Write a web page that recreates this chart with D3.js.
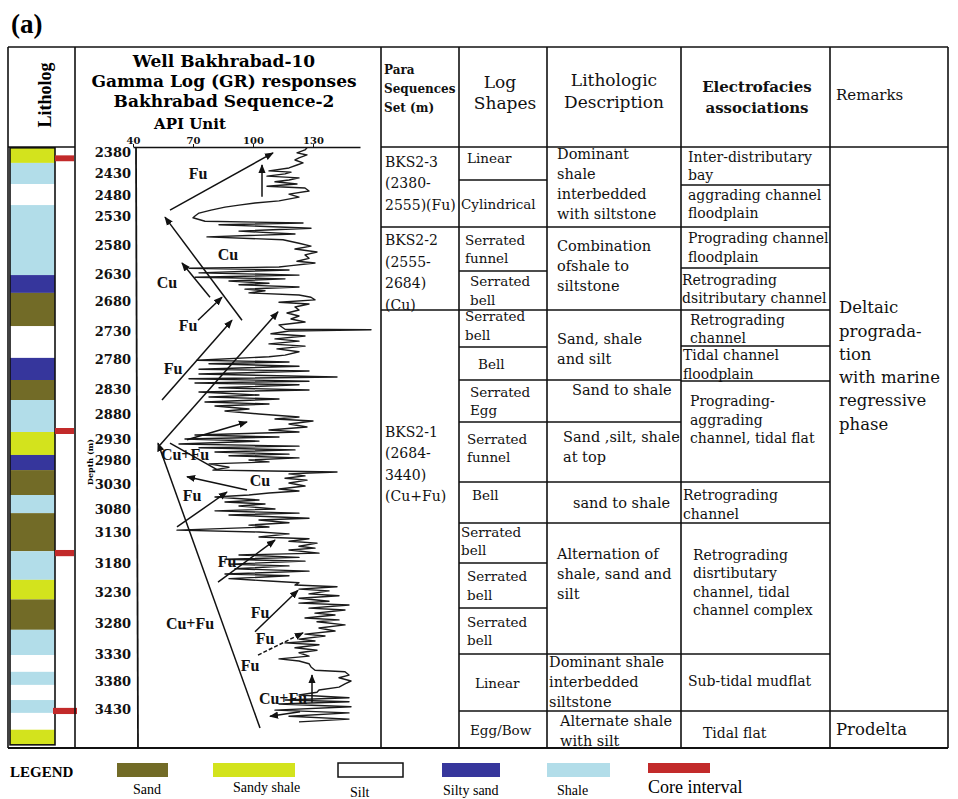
<!DOCTYPE html>
<html>
<head>
<meta charset="utf-8">
<script src="https://cdn.jsdelivr.net/npm/d3@7"></script>
<style>
  body { margin: 0; background: #fff; }
  svg { display: block; }
</style>
</head>
<body>
<svg id="chart" width="958" height="799"></svg>
<script>
// ---------------- data ----------------
const depthTicks = [2380, 2430, 2480, 2530, 2580, 2630, 2680, 2730, 2780, 2830, 2880,
                    2930, 2980, 3030, 3080, 3130, 3180, 3230, 3280, 3330, 3380, 3430];
const apiTicks = [40, 70, 100, 130];

// lithology units: [top depth, base depth, type]
const lithoUnits = [
  [2370, 2406, "Sandy shale"], [2406, 2455, "Shale"], [2455, 2504, "Silt"],
  [2504, 2632, "Shale"], [2632, 2665, "Silty sand"], [2665, 2722, "Sand"],
  [2722, 2778, "Silt"], [2778, 2815, "Silty sand"], [2815, 2852, "Sand"],
  [2852, 2916, "Shale"], [2916, 2968, "Sandy shale"], [2968, 3001, "Silty sand"],
  [3001, 3052, "Sand"], [3052, 3089, "Shale"], [3089, 3161, "Sand"],
  [3161, 3209, "Shale"], [3209, 3242, "Sandy shale"], [3242, 3291, "Sand"],
  [3291, 3332, "Shale"], [3332, 3363, "Silt"], [3363, 3387, "Shale"],
  [3387, 3414, "Silt"], [3414, 3437, "Shale"], [3437, 3467, "Silt"],
  [3467, 3494, "Sandy shale"]
];
const coreIntervals = [[2388, 2402], [2908, 2920], [3159, 3169], [3428, 3439]];

// gamma ray log: [depth (m), GR (API)]
const grLog = [
  [2370,127],[2375,126],[2382,122],[2387,127],[2394,123],[2399,121],[2406,125],[2411,122],
  [2418,118],[2425,108],[2428,119],[2432,116],[2437,107],[2441,123],[2446,118],[2450,111],
  [2455,122],[2460,107],[2464,126],[2471,128],[2478,118],[2485,123],[2494,113],[2499,101],
  [2504,93],[2509,86],[2516,79],[2523,73],[2530,71],[2533,70],[2539,76],[2542,125],
  [2545,83],[2551,129],[2556,93],[2561,121],[2566,77],[2571,115],[2577,123],[2582,129],
  [2587,121],[2592,132],[2597,126],[2603,128],[2608,122],[2611,131],[2616,118],[2618,113],
  [2620,68],[2623,118],[2628,73],[2632,123],[2636,71],[2639,116],[2643,88],[2647,108],
  [2650,93],[2654,123],[2658,96],[2661,106],[2665,98],[2669,123],[2673,129],[2678,131],
  [2682,113],[2685,128],[2690,121],[2695,123],[2700,117],[2705,123],[2710,119],[2715,126],
  [2720,113],[2727,116],[2728,159],[2730,118],[2735,109],[2739,126],[2744,111],[2748,123],
  [2753,108],[2757,126],[2762,112],[2767,123],[2773,116],[2776,108],[2782,72],[2785,118],
  [2788,78],[2792,123],[2797,73],[2800,128],[2805,73],[2810,142],[2813,68],[2817,128],
  [2820,71],[2823,123],[2828,83],[2832,128],[2836,73],[2842,103],[2846,78],[2850,113],
  [2856,76],[2860,108],[2864,81],[2870,98],[2874,86],[2880,103],[2886,123],[2890,111],
  [2894,130],[2900,118],[2906,127],[2912,108],[2916,123],[2922,71],[2926,113],[2930,66],
  [2935,103],[2942,63],[2947,123],[2951,73],[2956,121],[2961,81],[2966,118],[2970,88],
  [2975,123],[2980,98],[2984,108],[2988,78],[2995,88],[3001,80],[3005,142],[3009,118],
  [3013,126],[3018,116],[3022,127],[3028,118],[3034,126],[3040,113],[3044,123],[3048,108],
  [3052,98],[3056,81],[3062,103],[3066,86],[3070,106],[3074,93],[3080,111],[3084,81],
  [3089,123],[3093,88],[3100,128],[3104,103],[3110,118],[3115,98],[3119,108],[3126,62],
  [3130,103],[3133,118],[3138,103],[3141,128],[3145,118],[3148,132],[3153,123],[3156,131],
  [3159,118],[3164,133],[3167,93],[3171,123],[3174,86],[3177,126],[3182,88],[3185,118],
  [3190,91],[3194,128],[3199,86],[3202,118],[3207,88],[3211,108],[3214,123],[3218,121],
  [3221,142],[3225,123],[3228,138],[3233,128],[3236,143],[3240,123],[3245,138],[3248,123],
  [3251,148],[3256,128],[3259,146],[3264,131],[3267,141],[3272,126],[3275,143],[3278,132],
  [3283,146],[3288,133],[3293,141],[3298,126],[3301,136],[3306,123],[3309,131],[3312,116],
  [3315,133],[3320,121],[3324,132],[3328,123],[3334,128],[3339,113],[3343,123],[3348,128],
  [3354,129],[3360,131],[3363,146],[3369,148],[3374,143],[3380,149],[3385,146],[3391,143],
  [3396,133],[3400,132],[3405,123],[3410,148],[3414,116],[3417,148],[3421,113],[3426,149],
  [3432,111],[3437,148],[3443,118],[3448,148],[3453,123]
];

// log-motif trend arrows: [GR from, depth from, GR to, depth to, kind]
const trendArrows = [
  [58.5, 2516, 110, 2382, "head"], [104.5, 2484, 104.5, 2411, "head"],
  [94.5, 2712, 56, 2532, "head"], [78.5, 2673, 64.5, 2611, "head"],
  [72.5, 2712, 84.5, 2673, "head"], [54.5, 2852, 89.5, 2712, "head"],
  [53.5, 2944, 112.5, 2698, "head"], [67, 2932, 97, 2896, "head"],
  [103.5, 3464, 52.5, 2940, "head"], [97, 3042, 67, 3015, "head"],
  [82, 3000, 58.5, 2940, "none"], [62, 3119, 87, 3046, "head"],
  [82.5, 3213, 111, 3143, "head"], [101, 3294, 122.5, 3227, "head"],
  [102.5, 3332, 125, 3296, "dash"], [129.5, 3419, 129.5, 3369, "head"],
  [123.5, 3435, 108.5, 3443, "head"]
];
// motif labels: [text, GR, depth]
const trendLabels = [
  ["Fu", 72.5, 2430], ["Cu", 87.5, 2597], ["Cu", 57, 2645], ["Fu", 67.5, 2720],
  ["Fu", 60, 2795], ["Cu+Fu", 66, 2968], ["Cu", 103.5, 3022], ["Fu", 69.5, 3052],
  ["Fu", 87, 3178], ["Fu", 103.5, 3263], ["Fu", 106, 3305], ["Fu", 98.5, 3352],
  ["Cu+Fu", 68.5, 3280], ["Cu+Fu", 115, 3411]
];

// table contents
const paraSets = [
  ["BKS2-3", "(2380-", "2555)(Fu)"],
  ["BKS2-2", "(2555-", "2684)", "(Cu)"],
  ["BKS2-1", "(2684-", "3440)", "(Cu+Fu)"]
];
const logShapes = [
  ["Linear"], ["Cylindrical"], ["Serrated", "funnel"], ["Serrated", "bell"],
  ["Serrated", "bell"], ["Bell"], ["Serrated", "Egg"], ["Serrated", "funnel"],
  ["Bell"], ["Serrated", "bell"], ["Serrated", "bell"], ["Serrated", "bell"],
  ["Linear"], ["Egg/Bow"]
];
const lithDescriptions = [
  ["Dominant", "shale", "interbedded", "with siltstone"],
  ["Combination", "ofshale to", "siltstone"],
  ["Sand, shale", "and  silt"],
  ["Sand to shale"],
  ["Sand ,silt, shale", "at top"],
  ["sand to shale"],
  ["Alternation of", "shale, sand and", "silt"],
  ["Dominant shale", "interbedded", "siltstone"],
  ["Alternate shale", "with silt"]
];
const electrofacies = [
  ["Inter-distributary", "bay"], ["aggrading channel", "floodplain"],
  ["Prograding channel", "floodplain"], ["Retrograding", "dsitributary channel"],
  ["Retrograding", "channel"], ["Tidal channel", "floodplain"],
  ["Prograding-", "aggrading", "channel, tidal flat"], ["Retrograding", "channel"],
  ["Retrograding", "disrtibutary", "channel, tidal", "channel complex"],
  ["Sub-tidal mudflat"], ["Tidal flat"]
];
const remarks = [
  ["Deltaic", "prograda-", "tion", "with marine", "regressive", "phase"],
  ["Prodelta"]
];
const legendItems = ["Sand", "Sandy shale", "Silt", "Silty sand", "Shale", "Core interval"];

// ---------------- styles & layout ----------------
const lithFill = {
  "Sand": "#726b27", "Sandy shale": "#d3e31d", "Silt": "#ffffff",
  "Silty sand": "#36369c", "Shale": "#b2dde9", "Core interval": "#c22a2a"
};
const ink = "#111";
const serif = "'DejaVu Serif', serif";
const times = "'Liberation Serif', serif";

const frameTop = 47, headBottom = 147, frameBottom = 748, frameLeft = 8, frameRight = 948;
const colLines = [8, 75, 381, 459, 547, 681, 830, 948];

// row boundaries of each table column
const paraRows = [147, 227, 310, 748];
const logRows = [147, 180, 227, 271, 310, 347, 380, 422, 482, 523, 563, 608, 654, 711, 748];
const lithRows = [147, 227, 310, 380, 422, 482, 523, 654, 711, 748];
const electroRows = [147, 185, 227, 268, 310, 346, 381, 482, 523, 654, 711, 748];
const remarkRows = [147, 711, 748];

const svg = d3.select("#chart");

// depth axis: label positions are irregular, so the scale is piecewise linear
const depthTickY = [152, 173, 195, 216, 245, 274, 301, 331, 359, 389, 414,
                    439, 460, 484, 509, 532, 563, 592, 623, 654, 681, 709];
const y = d3.scaleLinear().domain(depthTicks).range(depthTickY);
const x = d3.scaleLinear().domain([40, 153.5]).range([133, 360]);

// ---------------- panel label ----------------
svg.append("text").attr("x", 11).attr("y", 33)
  .attr("font-family", times).attr("font-weight", "bold").attr("font-size", 27)
  .text("(a)");

// ---------------- lithology column ----------------
const litho = svg.append("g");
litho.selectAll("rect.unit").data(lithoUnits).join("rect")
  .attr("class", "unit")
  .attr("x", 10).attr("width", 45)
  .attr("y", d => y(d[0])).attr("height", d => y(d[1]) - y(d[0]))
  .attr("fill", d => lithFill[d[2]]);
litho.append("rect").attr("x", 10).attr("y", y(2370)).attr("width", 45)
  .attr("height", y(3494) - y(2370)).attr("fill", "none")
  .attr("stroke", ink).attr("stroke-width", 1.6);
litho.selectAll("rect.core").data(coreIntervals).join("rect")
  .attr("class", "core")
  .attr("x", (d, i) => i === 3 ? 53 : 55).attr("width", (d, i) => i === 3 ? 24 : 19)
  .attr("y", d => y(d[0])).attr("height", d => y(d[1]) - y(d[0]))
  .attr("fill", lithFill["Core interval"]);
svg.append("text")
  .attr("transform", "translate(51,95) rotate(-90)")
  .attr("text-anchor", "middle")
  .attr("font-family", times).attr("font-weight", "bold").attr("font-size", 18)
  .text("Litholog");

// ---------------- gamma log column ----------------
const titleLines = ["Well Bakhrabad-10", "Gamma Log (GR) responses", "Bakhrabad Sequence-2"];
svg.append("g").selectAll("text").data(titleLines).join("text")
  .attr("x", 224).attr("y", (d, i) => 67 + i * 20)
  .attr("text-anchor", "middle")
  .attr("font-family", serif).attr("font-weight", "bold").attr("font-size", 17)
  .text(d => d);
svg.append("text").attr("x", 190).attr("y", 129).attr("text-anchor", "middle")
  .attr("font-family", serif).attr("font-weight", "bold").attr("font-size", 15)
  .text("API Unit");

const xAxis = svg.append("g").attr("transform", `translate(0,${headBottom})`)
  .call(d3.axisTop(x).tickValues(apiTicks).tickSize(3).tickSizeOuter(0).tickFormat(d3.format("d")));
xAxis.select(".domain").attr("stroke", ink).attr("stroke-width", 1.6);
xAxis.selectAll(".tick line").attr("stroke", ink);
xAxis.selectAll(".tick text").attr("font-family", serif).attr("font-weight", "bold")
  .attr("font-size", 10).attr("fill", ink).attr("dy", "0.25em");

const yAxis = svg.append("g").attr("transform", "translate(136,0)")
  .call(d3.axisLeft(y).tickValues(depthTicks).tickSize(0).tickPadding(5).tickFormat(d3.format("d")));
yAxis.select(".domain").remove();
yAxis.selectAll(".tick text").attr("font-family", serif).attr("font-weight", "bold")
  .attr("font-size", 13).attr("fill", ink);
svg.append("line").attr("x1", 136).attr("x2", 138).attr("y1", headBottom).attr("y2", frameBottom)
  .attr("stroke", ink).attr("stroke-width", 1.8);
svg.append("text").attr("transform", "translate(93,462) rotate(-90)")
  .attr("text-anchor", "middle").attr("font-family", serif).attr("font-weight", "bold")
  .attr("font-size", 8).text("Depth (m)");

// GR curve
const grLine = d3.line().x(d => x(d[1])).y(d => y(d[0]));
svg.append("path").datum(grLog).attr("d", grLine)
  .attr("fill", "none").attr("stroke", "#1b1b1b").attr("stroke-width", 1.4)
  .attr("stroke-linejoin", "round");

// trend arrows and motif labels
svg.append("defs").append("marker").attr("id", "head")
  .attr("viewBox", "0 0 10 10").attr("refX", 9).attr("refY", 5)
  .attr("markerWidth", 6).attr("markerHeight", 6).attr("orient", "auto")
  .append("path").attr("d", "M0,1 L10,5 L0,9 Z").attr("fill", ink);
svg.append("g").selectAll("line").data(trendArrows).join("line")
  .attr("x1", d => x(d[0])).attr("y1", d => y(d[1]))
  .attr("x2", d => x(d[2])).attr("y2", d => y(d[3]))
  .attr("stroke", ink).attr("stroke-width", 1.5)
  .attr("stroke-dasharray", d => d[4] === "dash" ? "4,2" : null)
  .attr("marker-end", d => d[4] === "none" ? null : "url(#head)");
svg.append("g").selectAll("text").data(trendLabels).join("text")
  .attr("x", d => x(d[1])).attr("y", d => y(d[2]))
  .attr("text-anchor", "middle").attr("dominant-baseline", "central")
  .attr("font-family", times).attr("font-weight", "bold").attr("font-size", 16)
  .attr("fill", ink)
  .text(d => d[0]);

// ---------------- table frame ----------------
const frame = svg.append("g").attr("stroke", ink).attr("stroke-width", 1.6);
frame.append("line").attr("x1", frameLeft).attr("x2", frameRight).attr("y1", frameTop).attr("y2", frameTop);
frame.append("line").attr("x1", frameLeft).attr("x2", frameRight).attr("y1", frameBottom).attr("y2", frameBottom)
  .attr("stroke-width", 2.2);
frame.append("line").attr("x1", frameLeft).attr("x2", 75).attr("y1", headBottom).attr("y2", headBottom);
frame.append("line").attr("x1", 381).attr("x2", frameRight).attr("y1", headBottom).attr("y2", headBottom);
frame.selectAll("line.col").data(colLines).join("line").attr("class", "col")
  .attr("x1", d => d).attr("x2", d => d).attr("y1", frameTop).attr("y2", frameBottom);

function rowLines(rows, x0, x1) {
  frame.append("g").selectAll("line").data(rows.slice(1, -1)).join("line")
    .attr("x1", x0).attr("x2", x1).attr("y1", d => d).attr("y2", d => d);
}
rowLines(paraRows, 381, 459);
rowLines(logRows, 459, 547);
rowLines(lithRows, 547, 681);
rowLines(electroRows, 681, 830);
rowLines(remarkRows, 830, 948);

// ---------------- table text ----------------
function cellText(cells, rows, x0, dx, dy, lineH, font, size, weight) {
  const g = svg.append("g").attr("font-family", font).attr("font-size", size)
    .attr("font-weight", weight || "normal").attr("fill", ink);
  cells.forEach((lines, i) => {
    const mid = (rows[i] + rows[i + 1]) / 2 + dy[i];
    const first = mid - (lines.length - 1) * lineH / 2;
    g.append("g").selectAll("text").data(lines).join("text")
      .attr("x", x0 + dx[i]).attr("y", (d, j) => first + j * lineH)
      .attr("dominant-baseline", "central")
      .text(d => d);
  });
}

// headers
const headers = svg.append("g").attr("fill", ink);
headers.append("g").selectAll("text").data(["Para", "Sequences", "Set (m)"]).join("text")
  .attr("x", 384).attr("y", (d, i) => 70 + i * 19).attr("dominant-baseline", "central")
  .attr("font-family", serif).attr("font-weight", "bold").attr("font-size", 12).text(d => d);
headers.append("g").selectAll("text").data(["Log", "Shapes"]).join("text")
  .attr("x", (d, i) => i ? 505 : 500).attr("y", (d, i) => 82 + i * 21).attr("text-anchor", "middle")
  .attr("dominant-baseline", "central").attr("font-family", serif).attr("font-size", 17).text(d => d);
headers.append("g").selectAll("text").data(["Lithologic", "Description"]).join("text")
  .attr("x", 614).attr("y", (d, i) => 80 + i * 22).attr("text-anchor", "middle")
  .attr("dominant-baseline", "central").attr("font-family", serif).attr("font-size", 17).text(d => d);
headers.append("g").selectAll("text").data(["Electrofacies", "associations"]).join("text")
  .attr("x", 757).attr("y", (d, i) => 87 + i * 21).attr("text-anchor", "middle")
  .attr("dominant-baseline", "central").attr("font-family", serif).attr("font-weight", "bold")
  .attr("font-size", 15).text(d => d);
headers.append("text").attr("x", 836).attr("y", 95).attr("dominant-baseline", "central")
  .attr("font-family", serif).attr("font-size", 15).text("Remarks");

cellText(paraSets, paraRows, 385, [0, 0, 0], [-4, 4, -65], 21.5, serif, 14);
cellText(logShapes, logRows, 459, [8, 2, 6, 11, 6, 19, 11, 8, 13, 2, 8, 8, 16, 11],
         [-6, 0, 0, 0, -3, 0, 0, -4, -8, -2, 0, 0, 0, 0], 18.5, serif, 13.5);
cellText(lithDescriptions, lithRows, 547, [10, 10, 10, 25, 16, 26, 10, 2, 13],
         [-3, -3, 4, -11, -5, 0, -15, -1, 1], 20, serif, 14.5);
cellText(electrofacies, electroRows, 681, [7, 7, 7, 1, 9, 2, 9, 2, 12, 7, 22],
         [0, -2, 0, 0, 1, 1, -12, 2, -6, -2, 3], 18.5, serif, 14);
cellText(remarks, remarkRows, 830, [9, 6], [-63, 0], 23.3, serif, 16.5);

// ---------------- legend ----------------
const legendX = [117, 213, 338, 442, 547, 648];
const legendW = [51, 82, 65, 58, 63, 62];
const legendLabelX = [133, 233, 350, 443, 557, 648];
const legendLabelY = [789, 787, 792, 790, 790, 787];
const legend = svg.append("g");
legend.append("text").attr("x", 10).attr("y", 777)
  .attr("font-family", times).attr("font-weight", "bold").attr("font-size", 15).text("LEGEND");
legend.selectAll("rect").data(legendItems).join("rect")
  .attr("x", (d, i) => legendX[i]).attr("y", 763)
  .attr("width", (d, i) => legendW[i]).attr("height", d => d === "Core interval" ? 10 : 14)
  .attr("fill", d => lithFill[d])
  .attr("stroke", d => d === "Silt" ? ink : "none").attr("stroke-width", 1.5);
legend.selectAll("text.item").data(legendItems).join("text").attr("class", "item")
  .attr("x", (d, i) => legendLabelX[i]).attr("y", (d, i) => legendLabelY[i])
  .attr("dominant-baseline", "central")
  .attr("font-family", times).attr("font-size", d => d === "Core interval" ? 18 : 14)
  .text(d => d);
</script>
</body>
</html>
